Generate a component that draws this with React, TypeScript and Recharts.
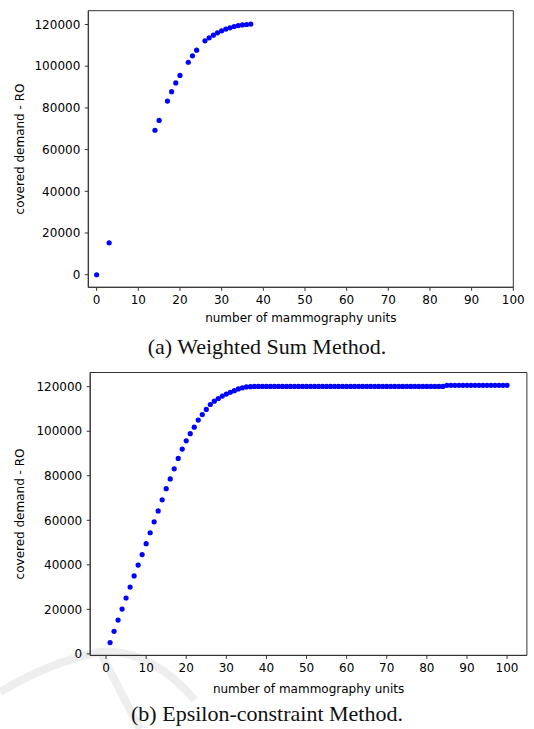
import React from 'react';
import { ScatterChart, Scatter, XAxis, YAxis, ReferenceArea } from 'recharts';

// (a) weighted sum method
const weightedUnits = [0, 3, 14, 15, 17, 18, 19, 20, 22, 23, 24, 26, 27, 28, 29, 30, 31, 32, 33, 34, 35, 36, 37];
const weightedDemand = [
  0, 15300, 69300, 74000, 83300, 87800, 92000, 95600, 101900, 105000, 107700, 112200,
  113600, 114900, 116000, 117000, 117800, 118400, 119000, 119500, 119800, 120000, 120200,
];

// (b) epsilon-constraint method
const epsilonUnits = [
  1, 2, 3, 4, 5, 6, 7, 8, 9, 10, 11, 12, 13, 14, 15, 16, 17, 18, 19, 20,
  21, 22, 23, 24, 25, 26, 27, 28, 29, 30, 31, 32, 33, 34, 35, 36, 37, 38, 39, 40,
  41, 42, 43, 44, 45, 46, 47, 48, 49, 50, 51, 52, 53, 54, 55, 56, 57, 58, 59, 60,
  61, 62, 63, 64, 65, 66, 67, 68, 69, 70, 71, 72, 73, 74, 75, 76, 77, 78, 79, 80,
  81, 82, 83, 84, 85, 86, 87, 88, 89, 90, 91, 92, 93, 94, 95, 96, 97, 98, 99, 100,
];
const epsilonDemand = [
  5100, 10150, 15200, 20150, 25100, 30000, 35000, 39900, 44600, 49500,
  54400, 59300, 64200, 69200, 74200, 78600, 83100, 87800, 92000, 95700,
  98900, 101800, 105000, 107500, 109800, 112000, 113500, 114700, 115800, 116700,
  117500, 118200, 119000, 119500, 119900, 120000, 120100, 120100, 120100, 120100,
  120100, 120100, 120100, 120100, 120100, 120100, 120100, 120100, 120100, 120100,
  120100, 120100, 120100, 120100, 120100, 120100, 120100, 120100, 120100, 120100,
  120100, 120100, 120100, 120100, 120100, 120100, 120100, 120100, 120100, 120100,
  120100, 120100, 120100, 120100, 120100, 120100, 120100, 120100, 120100, 120100,
  120100, 120100, 120100, 120100, 120600, 120600, 120600, 120600, 120600, 120600,
  120600, 120600, 120600, 120600, 120600, 120600, 120600, 120600, 120600, 120600,
];

const xTicks = [0, 10, 20, 30, 40, 50, 60, 70, 80, 90, 100];
const yTicks = [0, 20000, 40000, 60000, 80000, 100000, 120000];

const weightedData = weightedUnits.map((x, i) => ({ x, y: weightedDemand[i] }));
const epsilonData = epsilonUnits.map((x, i) => ({ x, y: epsilonDemand[i] }));

const tickStyle = { fontFamily: 'DejaVu Sans', fontSize: 12, fill: '#000' };
const labelStyle = { fontFamily: 'DejaVu Sans', fontSize: 12, fill: '#000', textAnchor: 'middle' as const };

const Dot = (props: any) => <circle cx={props.cx} cy={props.cy} r={2.6} fill="#0000ff" />;

interface PanelProps {
  data: { x: number; y: number }[];
  xDomain: [number, number];
  yDomain: [number, number];
  height: number;
  margin: { top: number; right: number; left: number; bottom: number };
  yAxisWidth: number;
  xAxisHeight: number;
  titleOffset: number;
}

const Panel = ({ data, xDomain, yDomain, height, margin, yAxisWidth, xAxisHeight, titleOffset }: PanelProps) => (
  <ScatterChart width={534} height={height} margin={margin}>
    <XAxis
      type="number"
      dataKey="x"
      domain={xDomain}
      allowDataOverflow
      ticks={xTicks}
      interval={0}
      height={xAxisHeight}
      tickSize={3.5}
      tickMargin={5}
      stroke="#333"
      tick={tickStyle}
      label={{ value: 'number of mammography units', position: 'insideBottom', offset: titleOffset, style: labelStyle }}
    />
    <YAxis
      type="number"
      dataKey="y"
      domain={yDomain}
      allowDataOverflow
      ticks={yTicks}
      interval={0}
      width={yAxisWidth}
      tickSize={3.5}
      tickMargin={4.5}
      stroke="#333"
      tick={tickStyle}
      label={{ value: 'covered demand - RO', angle: -90, position: 'insideLeft', offset: 20, style: labelStyle }}
    />
    <ReferenceArea
      x1={xDomain[0]}
      x2={xDomain[1]}
      y1={yDomain[0]}
      y2={yDomain[1]}
      fill="none"
      fillOpacity={0}
      stroke="#333"
      strokeWidth={1}
    />
    <Scatter data={data} shape={Dot} isAnimationActive={false} />
  </ScatterChart>
);

const captionStyle: React.CSSProperties = {
  position: 'absolute',
  left: 0,
  width: 534,
  textAlign: 'center',
  fontFamily: 'Liberation Serif',
  fontSize: 22,
  color: '#111',
  lineHeight: '24px',
};

export default function App() {
  return (
    <div style={{ position: 'absolute', left: 0, top: 0, width: 534, height: 729, background: '#fff', overflow: 'hidden' }}>
      {/* faint watermark in the lower left corner */}
      <svg width={534} height={729} style={{ position: 'absolute', left: 0, top: 0 }}>
        <path d="M0,692 Q50,662 100,652 Q150,648 195,700" fill="none" stroke="#eeeeee" strokeWidth={8} />
        <path d="M100,652 Q120,690 140,729" fill="none" stroke="#eeeeee" strokeWidth={8} />
      </svg>
      <div style={{ position: 'absolute', left: 0, top: 0 }}>
        <Panel
          data={weightedData}
          xDomain={[-2, 100]}
          yDomain={[-6030, 126630]}
          height={330}
          margin={{ top: 10.7, right: 20.7, left: 0, bottom: 0 }}
          yAxisWidth={88.3}
          xAxisHeight={42.7}
          titleOffset={8}
        />
      </div>
      <div style={{ ...captionStyle, top: 335 }}>(a) Weighted Sum Method.</div>
      <div style={{ position: 'absolute', left: 0, top: 360 }}>
        <Panel
          data={epsilonData}
          xDomain={[-3.95, 104.95]}
          yDomain={[-675, 126375]}
          height={345}
          margin={{ top: 12.5, right: 7.1, left: 0, bottom: 0 }}
          yAxisWidth={90.2}
          xAxisHeight={49.6}
          titleOffset={12}
        />
      </div>
      <div style={{ ...captionStyle, top: 702 }}>(b) Epsilon-constraint Method.</div>
    </div>
  );
}
